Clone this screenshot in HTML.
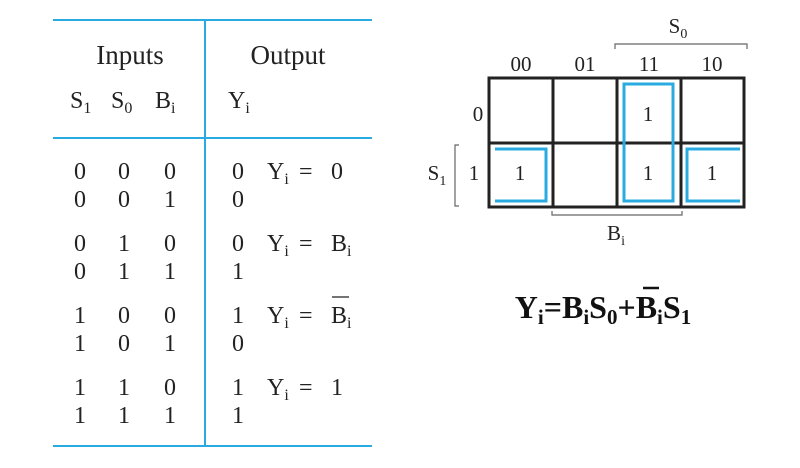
<!DOCTYPE html>
<html><head><style>body{margin:0;background:#fff}svg{display:block}</style></head><body>
<svg width="800" height="468" xmlns="http://www.w3.org/2000/svg" font-family="Liberation Serif, serif" fill="#222">
<g stroke="#29abe2" stroke-width="2">
<line x1="53" y1="20" x2="372" y2="20"/>
<line x1="53" y1="138" x2="372" y2="138"/>
<line x1="53" y1="446" x2="372" y2="446"/>
<line x1="205" y1="20" x2="205" y2="446"/>
</g>
<g font-size="24">
<text x="130" y="64" text-anchor="middle" font-size="27">Inputs</text>
<text x="288" y="64" text-anchor="middle" font-size="27">Output</text>
<text x="70" y="108">S<tspan font-size="16" dy="5">1</tspan></text>
<text x="111" y="108">S<tspan font-size="16" dy="5">0</tspan></text>
<text x="155" y="108">B<tspan font-size="16" dy="5">i</tspan></text>
<text x="228" y="108">Y<tspan font-size="16" dy="5">i</tspan></text>
<g text-anchor="middle">
<text x="80" y="179">0</text><text x="124" y="179">0</text><text x="170" y="179">0</text><text x="238" y="179">0</text>
<text x="80" y="207">0</text><text x="124" y="207">0</text><text x="170" y="207">1</text><text x="238" y="207">0</text>
<text x="80" y="251">0</text><text x="124" y="251">1</text><text x="170" y="251">0</text><text x="238" y="251">0</text>
<text x="80" y="279">0</text><text x="124" y="279">1</text><text x="170" y="279">1</text><text x="238" y="279">1</text>
<text x="80" y="323">1</text><text x="124" y="323">0</text><text x="170" y="323">0</text><text x="238" y="323">1</text>
<text x="80" y="351">1</text><text x="124" y="351">0</text><text x="170" y="351">1</text><text x="238" y="351">0</text>
<text x="80" y="395">1</text><text x="124" y="395">1</text><text x="170" y="395">0</text><text x="238" y="395">1</text>
<text x="80" y="423">1</text><text x="124" y="423">1</text><text x="170" y="423">1</text><text x="238" y="423">1</text>
</g>
<g>
<text x="267" y="179">Y<tspan font-size="16" dy="5">i</tspan></text><text x="299" y="179">=</text><text x="331" y="179">0</text>
<text x="267" y="251">Y<tspan font-size="16" dy="5">i</tspan></text><text x="299" y="251">=</text><text x="331" y="251">B<tspan font-size="16" dy="5">i</tspan></text>
<text x="267" y="323">Y<tspan font-size="16" dy="5">i</tspan></text><text x="299" y="323">=</text><text x="331" y="323">B<tspan font-size="16" dy="5">i</tspan></text>
<text x="267" y="395">Y<tspan font-size="16" dy="5">i</tspan></text><text x="299" y="395">=</text><text x="331" y="395">1</text>
</g>
<line x1="332" y1="297" x2="349" y2="297" stroke="#222" stroke-width="1.3"/>
</g>
<!-- K-map -->
<g font-size="21" text-anchor="middle">
<text x="521" y="71">00</text><text x="585" y="71">01</text><text x="649" y="71">11</text><text x="712" y="71">10</text>
<text x="478" y="121">0</text><text x="474" y="180">1</text>
<text x="520" y="180">1</text><text x="648" y="180">1</text><text x="712" y="180">1</text><text x="648" y="121">1</text>
<text x="678" y="33">S<tspan font-size="14" dy="5">0</tspan></text>
<text x="437" y="180">S<tspan font-size="14" dy="5">1</tspan></text>
<text x="616" y="240">B<tspan font-size="14" dy="5">i</tspan></text>
</g>
<g stroke="#666" fill="none" stroke-width="1.2">
<path d="M615 49V44H747V49"/>
<path d="M459 145H455V206H459"/>
<path d="M552 211V215H682V211"/>
</g>
<g stroke="#222" stroke-width="3" fill="none">
<rect x="489" y="78" width="255" height="129"/>
<line x1="553" y1="78" x2="553" y2="207"/>
<line x1="617" y1="78" x2="617" y2="207"/>
<line x1="681" y1="78" x2="681" y2="207"/>
<line x1="489" y1="143" x2="744" y2="143"/>
</g>
<g stroke="#29abe2" stroke-width="3" fill="none">
<rect x="624" y="84" width="49" height="117"/>
<path d="M495 149H546V201H495"/>
<path d="M740 149H687V201H740"/>
</g>
<text x="603" y="318" font-size="32" font-weight="bold" text-anchor="middle" fill="#111">Y<tspan font-size="21" dy="6">i</tspan><tspan dy="-6">=B</tspan><tspan font-size="21" dy="6">i</tspan><tspan dy="-6">S</tspan><tspan font-size="21" dy="6">0</tspan><tspan dy="-6">+B</tspan><tspan font-size="21" dy="6">i</tspan><tspan dy="-6">S</tspan><tspan font-size="21" dy="6">1</tspan></text>
<line x1="643" y1="288" x2="659" y2="288" stroke="#111" stroke-width="2.5"/>
</svg>
</body></html>
